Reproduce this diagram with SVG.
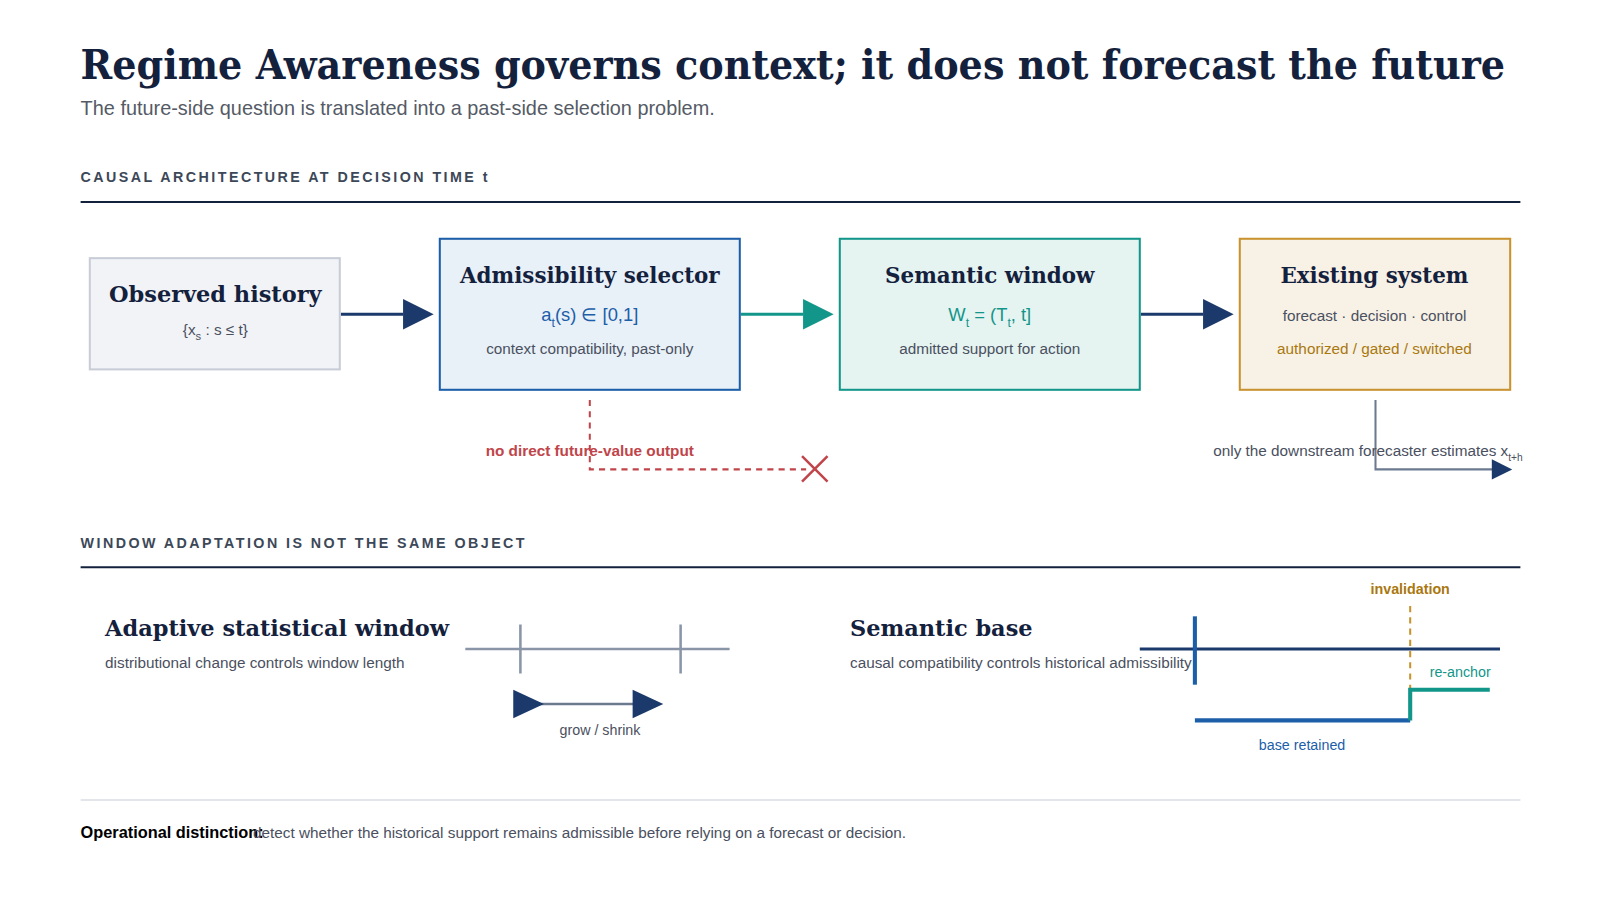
<svg xmlns="http://www.w3.org/2000/svg" width="1600" height="900" viewBox="0 0 1600 900">
<style>
.serif{font-family:"DejaVu Serif","Liberation Serif",serif;font-weight:bold;fill:#14213d}
.sans{font-family:"Liberation Sans",Arial,sans-serif}
.cap{font-family:"Liberation Sans",Arial,sans-serif;font-weight:bold;font-size:14px;letter-spacing:2.4px;fill:#3c4858}
.sm{font-size:15px;fill:#4a5060}
</style>
<rect width="1600" height="900" fill="#fff"/>
<g transform="scale(1.0204)">
<text x="79" y="77" class="serif" font-size="40" textLength="1396" lengthAdjust="spacingAndGlyphs">Regime Awareness governs context; it does not forecast the future</text>
<text x="79" y="113" class="sans" font-size="19.5" fill="#555b66">The future-side question is translated into a past-side selection problem.</text>
<text x="79" y="178" class="cap">CAUSAL ARCHITECTURE AT DECISION TIME t</text>
<line x1="79" y1="198" x2="1490" y2="198" stroke="#14213d" stroke-width="2"/>
<g id="connectors">
<path d="M334,308H395" stroke="#1b3a6b" stroke-width="3"/><path d="M395,293L425,308L395,323z" fill="#1b3a6b"/>
<path d="M726,308H787" stroke="#13968a" stroke-width="3"/><path d="M787,293L817,308L787,323z" fill="#13968a"/>
<path d="M1118,308H1179" stroke="#1b3a6b" stroke-width="3"/><path d="M1179,293L1209,308L1179,323z" fill="#1b3a6b"/>
<path d="M578,392V460H790" fill="none" stroke="#c0454a" stroke-width="2" stroke-dasharray="6,5"/>
<path d="M786,447L811,472M811,447L786,472" stroke="#c0454a" stroke-width="2.5"/>
<path d="M1348,392V460H1463" fill="none" stroke="#6b7a8f" stroke-width="2"/>
<path d="M1462,450L1482,460L1462,470z" fill="#1b3a6b"/>
</g>
<g id="observed"><rect x="88" y="253" width="245" height="109" fill="#f1f3f7" stroke="#c8ccd6" stroke-width="2"/>
<text x="211" y="296" class="serif" font-size="22" text-anchor="middle">Observed history</text>
<text x="211" y="328" class="sans sm" text-anchor="middle">{x<tspan font-size="11" dy="5">s</tspan><tspan dy="-5"> : s ≤ t}</tspan></text></g>
<g id="selector"><rect x="431" y="234" width="294" height="148" fill="#e8f0f8" stroke="#1c5ea8" stroke-width="2"/>
<text x="578" y="277" class="serif" font-size="21" text-anchor="middle">Admissibility selector</text>
<text x="578" y="315" class="sans" font-size="18" fill="#1c5ea8" text-anchor="middle">a<tspan font-size="12" dy="5">t</tspan><tspan dy="-5">(s) ∈ [0,1]</tspan></text>
<text x="578" y="347" class="sans sm" text-anchor="middle">context compatibility, past-only</text></g>
<g id="semantic"><rect x="823" y="234" width="294" height="148" fill="#e5f3f1" stroke="#13968a" stroke-width="2"/>
<text x="970" y="277" class="serif" font-size="21" text-anchor="middle">Semantic window</text>
<text x="970" y="315" class="sans" font-size="18" fill="#13968a" text-anchor="middle">W<tspan font-size="12" dy="5">t</tspan><tspan dy="-5"> = (T</tspan><tspan font-size="12" dy="5">t</tspan><tspan dy="-5">, t]</tspan></text>
<text x="970" y="347" class="sans sm" text-anchor="middle">admitted support for action</text></g>
<g id="existing"><rect x="1215" y="234" width="265" height="148" fill="#f8f2e6" stroke="#c8922e" stroke-width="2"/>
<text x="1347" y="277" class="serif" font-size="21" text-anchor="middle">Existing system</text>
<text x="1347" y="315" class="sans sm" text-anchor="middle">forecast · decision · control</text>
<text x="1347" y="347" class="sans" font-size="15" fill="#a9780f" text-anchor="middle">authorized / gated / switched</text></g>
<text x="578" y="447" class="sans" font-size="15" font-weight="bold" fill="#c0454a" text-anchor="middle">no direct future-value output</text>
<text x="1189" y="447" class="sans sm">only the downstream forecaster estimates x<tspan font-size="10" dy="5">t+h</tspan></text>
<text x="79" y="537" class="cap">WINDOW ADAPTATION IS NOT THE SAME OBJECT</text>
<line x1="79" y1="556" x2="1490" y2="556" stroke="#14213d" stroke-width="2"/>
<g id="adaptive">
<text x="103" y="623" class="serif" font-size="22">Adaptive statistical window</text>
<text x="103" y="655" class="sans sm" font-size="16">distributional change controls window length</text>
<path d="M456,636H715M510,612V660M667,612V660" stroke="#8a95a8" stroke-width="2.5"/>
<path d="M505,690H640" stroke="#6b7a8f" stroke-width="2.5"/>
<path d="M503,676L533,690L503,704z" fill="#1b3a6b"/><path d="M620,676L650,690L620,704z" fill="#1b3a6b"/>
<text x="588" y="720" class="sans" font-size="14" fill="#4a5060" text-anchor="middle">grow / shrink</text>
</g>
<g id="base">
<text x="833" y="623" class="serif" font-size="22">Semantic base</text>
<text x="833" y="655" class="sans sm" font-size="16">causal compatibility controls historical admissibility</text>
<path d="M1117,636H1470" stroke="#1b3a6b" stroke-width="3"/>
<path d="M1171,604V671" stroke="#1c5ea8" stroke-width="4"/>
<path d="M1382,594V676" stroke="#c8922e" stroke-width="2" stroke-dasharray="6,5"/>
<text x="1382" y="582" class="sans" font-size="14" font-weight="bold" fill="#a9780f" text-anchor="middle">invalidation</text>
<path d="M1171,706H1382" stroke="#1c5ea8" stroke-width="4"/>
<path d="M1382,706V676H1460" fill="none" stroke="#13968a" stroke-width="4"/>
<text x="1431" y="663" class="sans" font-size="14" fill="#13968a" text-anchor="middle">re-anchor</text>
<text x="1276" y="735" class="sans" font-size="14" fill="#1c5ea8" text-anchor="middle">base retained</text>
</g>
<line x1="79" y1="784" x2="1490" y2="784" stroke="#d8dce3" stroke-width="1.5"/>
<text x="79" y="821" class="sans" font-size="16" fill="#000" font-weight="bold">Operational distinction:</text>
<text x="248" y="821" class="sans sm" font-size="16">detect whether the historical support remains admissible before relying on a forecast or decision.</text>
</g>
</svg>
